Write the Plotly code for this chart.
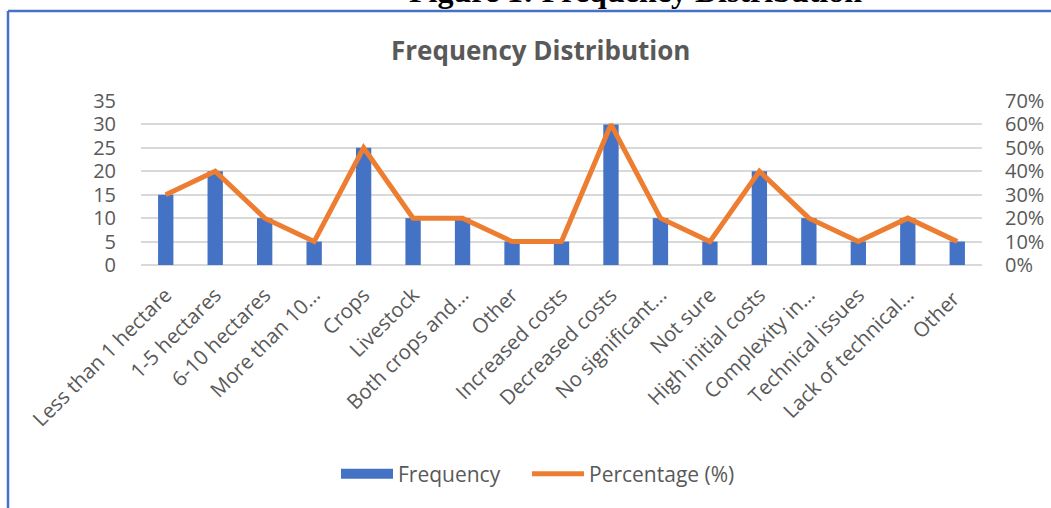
import plotly.graph_objects as go

categories = ["Less than 1 hectare", "1-5 hectares", "6-10 hectares", "More than 10...",
              "Crops", "Livestock", "Both crops and...", "Other", "Increased costs",
              "Decreased costs", "No significant...", "Not sure", "High initial costs",
              "Complexity in...", "Technical issues", "Lack of technical...", "Other "]
frequency = [15, 20, 10, 5, 25, 10, 10, 5, 5, 30, 10, 5, 20, 10, 5, 10, 5]
percentage = [30, 40, 20, 10, 50, 20, 20, 10, 10, 60, 20, 10, 40, 20, 10, 20, 10]
left_ticks = [0, 5, 10, 15, 20, 25, 30, 35]
right_ticks = [0, 10, 20, 30, 40, 50, 60, 70]
right_labels = ["0%", "10%", "20%", "30%", "40%", "50%", "60%", "70%"]

W, H = 1051, 508
L, R, T, B = 141, 982, 101, 265

def px_x(x):
    return (x - L) / (R - L)

def px_y(y):
    return (B - y) / (B - T)

GRAY = "#595959"
FONT = "Open Sans"
BLUE = "#4472C4"
ORANGE = "#ED7D31"

fig = go.Figure()
fig.add_trace(go.Bar(x=categories, y=frequency, name="Frequency", showlegend=False,
                     legendgroup="f", marker=dict(color=BLUE, line=dict(width=0)), yaxis="y"))
# legend proxy for the bar series (wide rectangle like the original)
fig.add_trace(go.Scatter(x=[None], y=[None], name="Frequency&nbsp;&nbsp;&nbsp;&nbsp;",
                         mode="lines", legendgroup="f",
                         line=dict(color=BLUE, width=14), yaxis="y"))
fig.add_trace(go.Scatter(x=categories, y=percentage, name="Percentage (%)", mode="lines",
                         line=dict(color=ORANGE, width=5), yaxis="y2"))

fig.update_layout(
    width=W, height=H,
    margin=dict(l=L, r=W - R, t=T, b=H - B, autoexpand=False),
    paper_bgcolor="white", plot_bgcolor="white",
    bargap=0.69,
    font=dict(family=FONT, size=20, color=GRAY),
    xaxis=dict(tickangle=-45, tickfont=dict(size=20.5, color=GRAY), showgrid=False,
               showline=False, ticks="", ticklen=0, ticklabelstandoff=13),
    yaxis=dict(range=[0, 35], tickvals=left_ticks, showgrid=True, gridcolor="#D9D9D9",
               gridwidth=1.5, zeroline=True, zerolinecolor="#D9D9D9", zerolinewidth=1.5,
               tickfont=dict(size=20, color=GRAY), ticks="", ticklabelstandoff=24),
    yaxis2=dict(range=[0, 70], tickvals=right_ticks, ticktext=right_labels, overlaying="y",
                side="right", showgrid=False, zeroline=False,
                tickfont=dict(size=20, color=GRAY), ticks="", ticklabelstandoff=22),
    legend=dict(orientation="h", x=px_x(538), xanchor="center", y=px_y(474), yanchor="middle",
                font=dict(size=21, color=GRAY), itemwidth=52, traceorder="normal"),
    showlegend=True,
)

fig.add_annotation(text="Frequency Distribution", x=px_x(540), y=px_y(50), xref="paper",
                   yref="paper", showarrow=False, xanchor="center", yanchor="middle",
                   font=dict(family=FONT, size=26, color=GRAY, weight="bold"))
fig.add_annotation(text="Figure 1: Frequency Distribution", x=px_x(635), y=px_y(-9),
                   xref="paper", yref="paper", showarrow=False, xanchor="center",
                   yanchor="middle",
                   font=dict(family="Liberation Serif", size=32, color="black", weight="bold"))

# frame border
fig.add_shape(type="line", xref="paper", yref="paper", x0=px_x(8), x1=px_x(1060),
              y0=px_y(11), y1=px_y(11), line=dict(color=BLUE, width=2.5))
fig.add_shape(type="line", xref="paper", yref="paper", x0=px_x(8), x1=px_x(8),
              y0=px_y(11), y1=px_y(520), line=dict(color=BLUE, width=2.5))

fig.write_html("out.html", config={"displayModeBar": False},
               post_script="document.body.style.margin='0';")
